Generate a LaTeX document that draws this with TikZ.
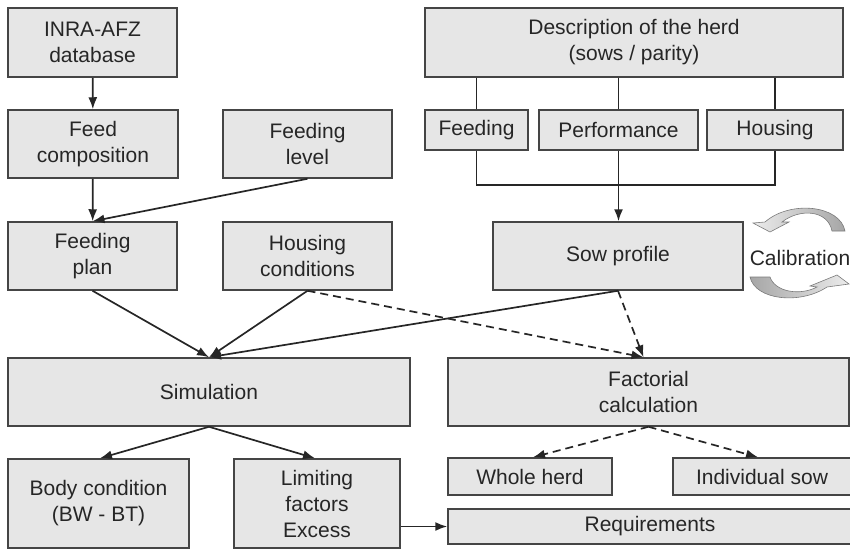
\documentclass[tikz,border=0pt]{standalone}
\usepackage{fontspec}
\setmainfont{Liberation Sans}
\usetikzlibrary{arrows.meta,calc}
\definecolor{boxfill}{HTML}{E6E6E6}
\definecolor{boxline}{HTML}{454545}
\definecolor{inkc}{HTML}{262626}
\definecolor{calib}{HTML}{7A7A7A}
\begin{document}
\begin{tikzpicture}[x=1pt,y=-1pt,
  every node/.style={font=\fontsize{21}{26}\selectfont, text=inkc},
  box/.style={draw=boxline, fill=boxfill, line width=1.5pt, rectangle,
    align=center, inner sep=0pt},
  link/.style={draw=inkc, line width=1.7pt},
  arr/.style={link, -{Latex[length=12pt,width=9pt]}},
  darr/.style={arr, dash pattern=on 8pt off 5pt},
  dotl/.style={link, dash pattern=on 2pt off 2pt},
  calarrow/.style={draw=calib, line width=0.6pt}]
\clip (0,0) rectangle (850,550);
\useasboundingbox (0,0) rectangle (850,550);

% left column
\node[box, minimum width=169pt, minimum height=69pt] (inra) at (92.5,42.5) {INRA-AFZ\\database};
\node[box, minimum width=170pt, minimum height=68pt] (feedcomp) at (93,144) {Feed\\composition};
\node[box, minimum width=169pt, minimum height=68pt] (feedlevel) at (307.5,144) {Feeding\\level};
\node[box, minimum width=169pt, minimum height=68pt] (feedplan) at (92.5,256) {Feeding\\plan};
\node[box, minimum width=169pt, minimum height=68pt] (housingc) at (307.5,256) {Housing\\conditions};
\node[box, minimum width=402pt, minimum height=68pt] (sim) at (209,392) {Simulation};
\node[box, minimum width=181pt, minimum height=89pt] (body) at (98.5,503.5) {Body condition\\(BW - BT)};
\node[box, minimum width=166pt, minimum height=89pt] (limit) at (317,503.5) {Limiting\\factors\\Excess};

% right column
\node[box, minimum width=418pt, minimum height=69pt] (desc) at (634,42.5) {Description of the herd\\(sows / parity)};
\node[box, minimum width=103pt, minimum height=40pt] (feeding) at (476.5,130) {Feeding};
\node[box, minimum width=159pt, minimum height=40pt] (perf) at (618.5,130) {Performance};
\node[box, minimum width=136pt, minimum height=40pt] (housing) at (775,130) {Housing};
\node[box, minimum width=250pt, minimum height=68pt] (sowprof) at (618,256) {Sow profile};
\node (calibration) at (800,258) {Calibration};
\node[box, minimum width=401pt, minimum height=68pt] (factorial) at (648.5,392) {Factorial\\calculation};
\node[box, minimum width=164pt, minimum height=37pt] (wholeherd) at (530,476.5) {Whole herd};
\node[box, minimum width=178pt, minimum height=37pt] (indiv) at (762,476.5) {Individual sow};
\node[box, minimum width=404pt, minimum height=35pt] (req) at (650,526.5) {Requirements};

% feed chain
\draw[arr] (inra) -- (feedcomp);
\draw[arr] (feedcomp) -- (feedplan);
\draw[arr] (feedlevel.south) -- (feedplan.north);

% herd description branches
\draw[link] (feeding.north |- desc.south) -- (feeding.north);
\draw[link] (perf.north |- desc.south) -- (perf.north);
\draw[link] (housing.north |- desc.south) -- (housing.north);
\coordinate (join) at (618.5,185);
\draw[link] (feeding.south) |- (join) -| (housing.south);
\draw[arr] (perf.south) -- (perf.south |- sowprof.north);

% inputs to the simulation and factorial calculation
\draw[arr] (feedplan.south) -- (sim.north);
\draw[arr] (housingc.south) -- (sim.north);
\draw[arr] (sowprof.south) -- (sim.north);
\draw[darr] (housingc.south) -- ($(factorial.north)+(-5,0)$);
\draw[darr] (sowprof.south) -- ($(factorial.north)+(-5,0)$);

% outputs
\draw[arr] (sim.south) -- ($(body.north)+(1.5,0)$);
\draw[arr] (sim.south) -- ($(limit.north)+(-2,0)$);
\draw[darr] (factorial.south) -- ($(wholeherd.north)+(3,0)$);
\draw[darr] (factorial.south) -- ($(indiv.north)+(-4,0)$);
\draw[dotl] ($(wholeherd.south)+(-3,0)$) -- ($(wholeherd.south)+(-3,0)$ |- req.north);
\draw[dotl] ($(indiv.south)+(5,0)$) -- ($(indiv.south)+(5,0)$ |- req.north);
\draw[arr] (limit.east |- req.west) -- (req.west);

% calibration loop arrows
\shade[left color=gray!15, right color=gray!70]
  (845,231) .. controls (840,205) and (790,200) .. (765,222) -- (753,223) -- (770,232)
  -- (789,222) -- (782,222) .. controls (800,208) and (828,210) .. (832,231) -- cycle;
\draw[calarrow]
  (845,231) .. controls (840,205) and (790,200) .. (765,222) -- (753,223) -- (770,232)
  -- (789,222) -- (782,222) .. controls (800,208) and (828,210) .. (832,231) -- cycle;
\shade[left color=gray!70, right color=gray!15]
  (750,277) .. controls (755,300) and (800,305) .. (827,287) -- (849,284) -- (837,275)
  -- (810,286) -- (817,287) .. controls (800,296) and (775,292) .. (770,277) -- cycle;
\draw[calarrow]
  (750,277) .. controls (755,300) and (800,305) .. (827,287) -- (849,284) -- (837,275)
  -- (810,286) -- (817,287) .. controls (800,296) and (775,292) .. (770,277) -- cycle;
\end{tikzpicture}
\end{document}
